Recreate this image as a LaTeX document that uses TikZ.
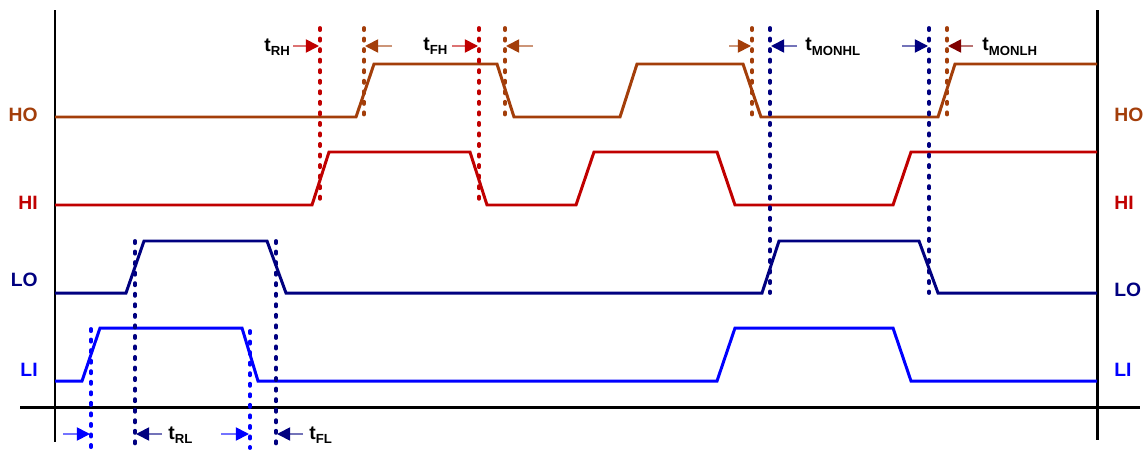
\documentclass[tikz,border=0pt]{standalone}
\usepackage{fontspec}
\setmainfont{Liberation Sans}
\usetikzlibrary{arrows.meta}
\definecolor{cHO}{RGB}{163,62,10}
\definecolor{cHI}{RGB}{192,0,0}
\definecolor{cLO}{RGB}{0,0,128}
\definecolor{cLI}{RGB}{0,0,255}
\definecolor{cMR}{RGB}{128,0,0}
\tikzset{
  sig/.style={line width=1.7pt, line join=miter},
  axis/.style={line width=1.7pt, black},
  dotl/.style={line width=2.2pt, dash pattern=on 1.2pt off 4.8pt, line cap=round},
  tarr/.style={line width=1pt, draw=#1!55, -{Triangle[length=7.5pt,width=7.5pt,color=#1]}},
  lbl/.style={font=\fontsize{11}{13}\selectfont\bfseries, inner sep=0pt},
  tl/.style={font=\fontsize{11}{13}\selectfont\bfseries, inner sep=0pt, anchor=west}
}
\newcommand{\tsub}[1]{t\raisebox{-0.45ex}{\fontsize{7.5}{8}\selectfont #1}}
\begin{document}
\begin{tikzpicture}[x=0.02cm,y=-0.02cm]
\useasboundingbox (0,0) rectangle (1145,450);
% axes
\draw[axis] (55,10) -- (55,442);
\draw[axis] (1097,10) -- (1097,440);
\draw[axis] (20,407) -- (1140,407);
% signals
\draw[sig,cHO] (55,117) -- (356,117) -- (374,64) -- (497,64) -- (514,117) -- (620,117) -- (637,64) -- (743,64) -- (761,117) -- (938,117) -- (955,64) -- (1097,64);
\draw[sig,cHI] (55,205) -- (312,205) -- (329,152) -- (470,152) -- (487,205) -- (576,205) -- (594,152) -- (717,152) -- (735,205) -- (893,205) -- (911,152) -- (1097,152);
\draw[sig,cLO] (55,293) -- (126,293) -- (144,241) -- (267,241) -- (286,293) -- (762,293) -- (779,241) -- (919,241) -- (938,293) -- (1097,293);
\draw[sig,cLI] (55,381) -- (82,381) -- (100,328) -- (242,328) -- (258,381) -- (717,381) -- (735,328) -- (893,328) -- (911,381) -- (1097,381);
% dotted markers
\draw[dotl,cHI] (320,28) -- (320,205);
\draw[dotl,cHI] (479,28) -- (479,205);
\draw[dotl,cHO] (364,28) -- (364,119);
\draw[dotl,cHO] (505,28) -- (505,119);
\draw[dotl,cHO] (752,28) -- (752,119);
\draw[dotl,cHO] (947,28) -- (947,119);
\draw[dotl,cLO] (770,28) -- (770,293);
\draw[dotl,cLO] (929,28) -- (929,293);
\draw[dotl,cLO] (135,241) -- (135,446);
\draw[dotl,cLO] (276,241) -- (276,446);
\draw[dotl,cLI] (91,329) -- (91,448);
\draw[dotl,cLI] (250,331) -- (250,448);
% arrows top
\draw[tarr=cHI] (293,46) -- (319,46);
\draw[tarr=cHO] (392,46) -- (365,46);
\draw[tarr=cHI] (452,46) -- (478,46);
\draw[tarr=cHO] (533,46) -- (506,46);
\draw[tarr=cHO] (729,46) -- (751,46);
\draw[tarr=cLO] (797,46) -- (771,46);
\draw[tarr=cLO] (902,46) -- (928,46);
\draw[tarr=cMR] (973,46) -- (948,46);
% arrows bottom
\draw[tarr=cLI] (63,434) -- (90,434);
\draw[tarr=cLO] (162,434) -- (136,434);
\draw[tarr=cLI] (221,434) -- (249,434);
\draw[tarr=cLO] (303,434) -- (277,434);
% timing labels
\node[tl] (tRH) at (264,47) {\tsub{RH}};
\node[tl] (tFH) at (423,46) {\tsub{FH}};
\node[tl] (tMONHL) at (805,47) {\tsub{MONHL}};
\node[tl] (tMONLH) at (982,47) {\tsub{MONLH}};
\node[tl] (tRL) at (168,435) {\tsub{RL}};
\node[tl] (tFL) at (309,435) {\tsub{FL}};
% signal labels
\node[lbl,cHO,anchor=east] (hoL) at (38,115) {HO};
\node[lbl,cHI,anchor=east] (hiL) at (38,203) {HI};
\node[lbl,cLO,anchor=east] (loL) at (38,280) {LO};
\node[lbl,cLI,anchor=east] (liL) at (38,370) {LI};
\node[lbl,cHO,anchor=west] (hoR) at (1114,115) {HO};
\node[lbl,cHI,anchor=west] (hiR) at (1114,203) {HI};
\node[lbl,cLO,anchor=west] (loR) at (1114,290) {LO};
\node[lbl,cLI,anchor=west] (liR) at (1114,370) {LI};
\end{tikzpicture}
\end{document}
